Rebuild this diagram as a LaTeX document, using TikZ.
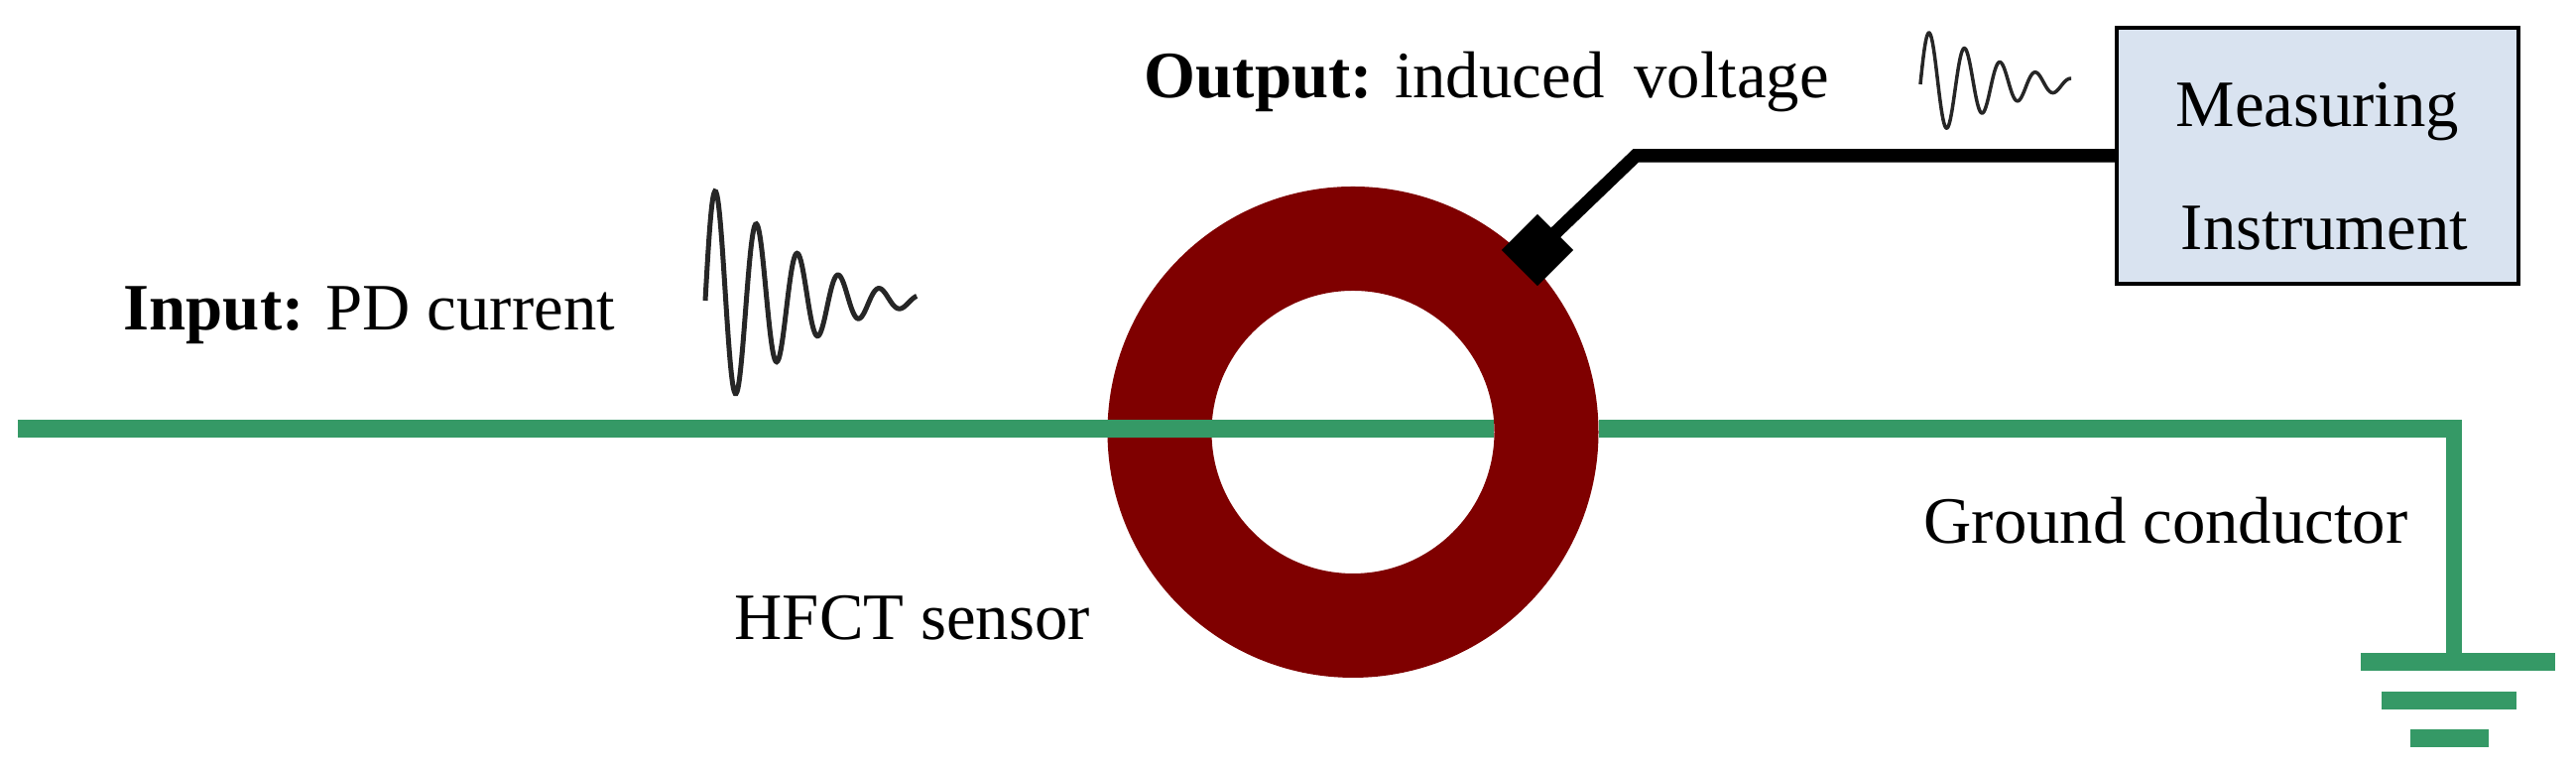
\documentclass[tikz,border=0pt]{standalone}
\usepackage{fontspec}
\setmainfont{Liberation Serif}
\definecolor{wiregreen}{RGB}{53, 153, 102}
\definecolor{sensorred}{RGB}{127, 0, 0}
\definecolor{meterblue}{RGB}{217, 227, 240}
\usetikzlibrary{positioning, calc}
\tikzset{
  lbl/.style={anchor=base west, inner sep=0pt, font=\fontsize{19pt}{35.3pt}\selectfont},
  wire/.style={wiregreen, line width=0.18cm},
  gndbar/.style={fill=wiregreen, inner sep=0pt, minimum height=0.18cm},
  wave/.style={black!85, smooth, samples=220}
}

\begin{document}
\begin{tikzpicture}
  \useasboundingbox (0, 0) rectangle (25.97, 7.75);

  % Ground symbol
  \node[gndbar, minimum width=1.96cm] (gndtop) at (24.78, 1.08) {};
  \node[gndbar, minimum width=1.36cm] (gndmid) at (24.69, 0.69) {};
  \node[gndbar, minimum width=0.79cm] (gndlow) at (24.695, 0.31) {};

  % Sensor ring, right wire stops at its edge
  \node[circle, draw=sensorred, line width=1.05cm, minimum size=3.9cm, inner sep=0pt] (ring) at (13.64, 3.395) {};
  \coordinate (wirestart) at (0.18, 3.425);
  \coordinate (holeright) at (15.06, 3.425);
  \coordinate (corner) at (24.74, 3.425);
  \draw[wire] (ring.east |- corner) -- ($(corner)+(0.08, 0)$);
  \draw[wiregreen, line width=0.16cm] (corner) -- (corner |- gndtop.center);
  \draw[wire] (wirestart) -- (holeright);

  % Measuring side
  \node[draw=black, fill=meterblue, line width=0.045cm, minimum width=4.05cm, minimum height=2.58cm,
    inner sep=0pt, align=center, font=\fontsize{19pt}{35.3pt}\selectfont] (meter) at (23.365, 6.18)
    {\rule{0pt}{0.66cm}Measuring\\\hspace{0.14cm}Instrument};
  \node[rectangle, fill=black, rotate=45, minimum size=0.51cm, inner sep=0pt] (probe) at (15.50, 5.23) {};
  \coordinate (bend) at (16.49, 6.18);
  \draw[line width=0.135cm] (probe.center) -- (bend) -- (meter.west);

  % Damped pulses
  \draw[wave, line width=0.05cm, domain=0:10.3]
    plot ({7.11+0.207*\x}, {4.72+1.18*exp(-0.13*\x-0.016*\x*\x)*sin(180*\x)});
  \draw[wave, line width=0.035cm, domain=0:8.5]
    plot ({19.36+0.179*\x}, {6.90+0.555*exp(-0.13*\x-0.016*\x*\x)*sin(180*\x)});

  % Labels
  \node[lbl] (inlbl) at (1.24, 4.42) {\textbf{Input:} PD current};
  \node[lbl] (outlbl) at (11.53, 6.76) {\textbf{Output:} induced\hspace{0.2em} voltage};
  \node[lbl] (gndlbl) at (19.39, 2.27) {Ground conductor};
  \node[lbl] (hfctlbl) at (7.40, 1.30) {HFCT sensor};
\end{tikzpicture}
\end{document}
